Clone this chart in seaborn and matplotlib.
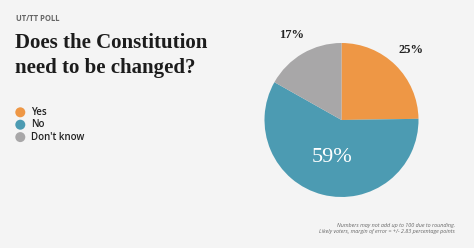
import matplotlib
matplotlib.use("Agg")
import matplotlib.pyplot as plt
import seaborn as sns
import numpy as np

# ---- data ----
categories = ["Yes", "No", "Don't know"]
values = [25, 59, 17]
value_labels = ["25%", "59%", "17%"]

title_kicker = "UT/TT POLL"
title_text = "Does the Constitution\nneed to be changed?"
footnote = ("Numbers may not add up to 100 due to rounding.\n"
            "Likely voters, margin of error = +/- 2.83 percentage points")

sns.set_theme(style="white")
plt.rcParams['font.family'] = ['Open Sans', 'DejaVu Sans']

colors = ["#ee9745", "#4c9bb2", "#a8a7a8"]
bg = "#f4f4f4"
serif = ["Liberation Serif", "DejaVu Serif"]

W, H = 474, 248
fig = plt.figure(figsize=(W / 100, H / 100), dpi=100)
fig.patch.set_facecolor(bg)

# pie axes: center (341,120), radius 77 px
cx, cy, r = 341.5, 120, 77
ax = fig.add_axes([(cx - r) / W, (H - cy - r) / H, 2 * r / W, 2 * r / H])
ax.set_facecolor(bg)
wedges, _ = ax.pie(values, colors=colors, startangle=90, counterclock=False,
                   radius=1.0, wedgeprops=dict(linewidth=0))
ax.set_xlim(-1, 1)
ax.set_ylim(-1, 1)
ax.set_aspect("equal")
ax.axis("off")

for i, (w, lab) in enumerate(zip(wedges, value_labels)):
    ang = np.deg2rad((w.theta1 + w.theta2) / 2)
    if i == 1:
        d = 0.5
        ax.text(d * np.cos(ang), d * np.sin(ang), lab, ha="center", va="center",
                color="white", fontsize=16, family=serif)
    else:
        d = 1.28
        ax.text(d * np.cos(ang), d * np.sin(ang), lab, ha="center", va="center",
                color="#222222", fontsize=9, family=serif,
                fontweight="bold")

# titles
fig.text(16 / W, 1 - 18.5 / H, title_kicker, ha="left", va="center",
         fontsize=5.5, fontweight="bold", color="#666666")
fig.text(15 / W, 1 - 33.5 / H, title_text, ha="left", va="top",
         fontsize=15, fontweight="bold", color="#1c1c1c",
         family=serif, linespacing=1.27)

# legend
for i, (cat, col) in enumerate(zip(categories, colors)):
    y = 1 - (112.3 + 12.4 * i) / H
    fig.patches.append(matplotlib.patches.Ellipse(
        (20.3 / W, y), 10 / W, 10 / H, transform=fig.transFigure,
        facecolor=col, edgecolor="none"))
    fig.text(31.5 / W, y, cat, ha="left", va="center", fontsize=7,
             color="#222222", fontweight="semibold")

# footnote
fig.text(455 / W, 1 - 228.5 / H, footnote, ha="right", va="center",
         fontsize=3.9, style="italic", color="#666666", linespacing=1.4)

fig.savefig("out.png", dpi=100, facecolor=bg)
